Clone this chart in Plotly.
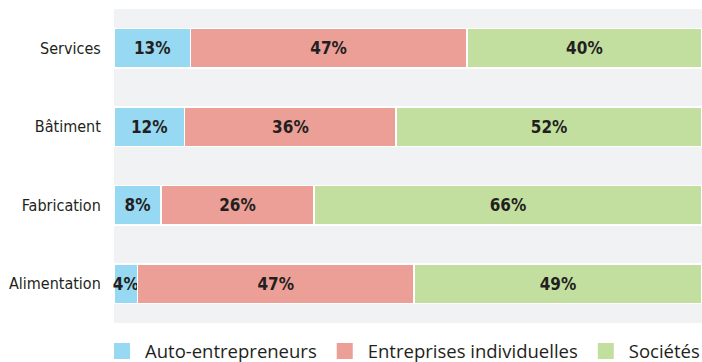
import plotly.graph_objects as go

categories = ["Services", "Bâtiment", "Fabrication", "Alimentation"]
auto_entrepreneurs = [13, 12, 8, 4]
entreprises_individuelles = [47, 36, 26, 47]
societes = [40, 52, 66, 49]

series = [
    ("Auto-entrepreneurs", auto_entrepreneurs, "#97d9f3"),
    ("Entreprises individuelles", entreprises_individuelles, "#eb9f97"),
    ("Sociétés", societes, "#c3df9f"),
]

COND = "DejaVu Sans Condensed, Liberation Sans Narrow, sans-serif"
TXT = "#231f20"

fig = go.Figure()
for name, vals, color in series:
    fig.add_trace(go.Bar(
        y=categories, x=vals, name=name, orientation="h",
        marker=dict(color=color, line=dict(color="white", width=1.5)),
        text=[f"{v}%" for v in vals],
        textposition="inside", insidetextanchor="middle", textangle=0,
        constraintext="none",
        textfont=dict(family=COND, size=17, color=TXT, weight="bold"),
        cliponaxis=False,
        showlegend=False,
    ))
# legend entries (larger square swatches)
for name, vals, color in series:
    fig.add_trace(go.Scatter(
        x=[None], y=[None], mode="markers", name=name,
        marker=dict(symbol="square", size=16, color=color),
        showlegend=True, hoverinfo="skip",
    ))

fig.update_layout(
    barmode="stack",
    width=702, height=362,
    margin=dict(l=114, r=0, t=9, b=39, autoexpand=False),
    paper_bgcolor="white",
    plot_bgcolor="#f1f2f4",
    bargap=0.5,
    showlegend=True,
    legend=dict(
        orientation="h", x=-0.0255, xanchor="left", y=-0.03, yanchor="top",
        font=dict(family="Open Sans, Noto Sans, sans-serif", size=18.5, color=TXT),
        traceorder="normal", itemwidth=36,
    ),
    xaxis=dict(range=[0, 100], visible=False, fixedrange=True),
    yaxis=dict(
        autorange="reversed", showgrid=False, zeroline=False, showline=False,
        ticks="outside", ticklen=9, tickcolor="rgba(0,0,0,0)",
        tickfont=dict(family=COND, size=16, color=TXT),
        fixedrange=True,
    ),
)

post = ("document.body.style.margin='0';document.body.style.padding='0';"
        "document.body.style.overflow='hidden';"
        "var gd=document.getElementById('{plot_id}');Plotly.Plots.resize(gd);")
fig.write_html("out.html", post_script=post,
               config={"responsive": False, "displayModeBar": False})
